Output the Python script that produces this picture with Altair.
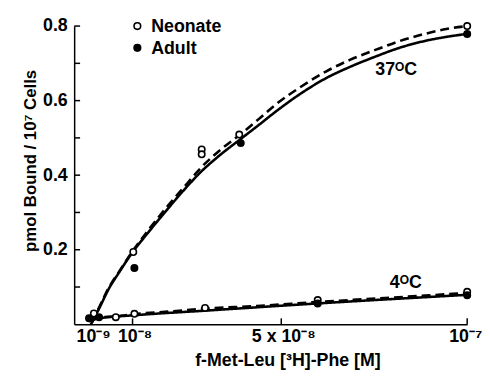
import altair as alt
import pandas as pd

# concentration in units of 1e-8 M
adult37_x = [-0.12, 0.10, 0.36, 0.63, 1.02, 1.42, 1.95, 2.48, 2.83, 3.28, 3.92, 4.40, 4.87, 5.54, 6.20, 6.86, 7.53, 8.19, 8.86, 9.44, 10.0]
adult37_y = [0.000, 0.042, 0.095, 0.138, 0.196, 0.246, 0.310, 0.371, 0.408, 0.448, 0.498, 0.535, 0.572, 0.620, 0.660, 0.691, 0.718, 0.742, 0.760, 0.771, 0.779]
neo37_x = [-0.09, 0.10, 0.36, 0.63, 1.02, 1.42, 1.95, 2.48, 2.83, 3.28, 3.92, 4.40, 4.87, 5.54, 6.20, 6.86, 7.53, 8.19, 8.86, 9.44, 10.0]
neo37_y = [0.005, 0.045, 0.098, 0.140, 0.199, 0.252, 0.318, 0.379, 0.419, 0.461, 0.511, 0.551, 0.591, 0.638, 0.678, 0.710, 0.736, 0.760, 0.779, 0.792, 0.800]
adult4_x = [-0.17, 0.10, 1.02, 3.02, 5.99, 10.0]
adult4_y = [0.008, 0.016, 0.024, 0.037, 0.056, 0.079]
neo4_x = [-0.12, 0.10, 0.55, 1.02, 1.95, 2.96, 4.34, 5.99, 7.53, 8.86, 10.0]
neo4_y = [0.012, 0.018, 0.021, 0.027, 0.034, 0.042, 0.049, 0.060, 0.069, 0.077, 0.084]

neo_pts_x = [-0.04, 1.02, 2.86, 2.86, 3.87, 10.0, 0.55, 1.05, 2.95, 5.98, 10.0]
neo_pts_y = [0.029, 0.194, 0.469, 0.456, 0.509, 0.800, 0.019, 0.028, 0.044, 0.065, 0.087]
adult_pts_x = [-0.17, 0.10, 1.05, 3.91, 10.0, 5.98, 10.0]
adult_pts_y = [0.016, 0.019, 0.151, 0.486, 0.779, 0.056, 0.078]

groups = ["Neonate", "Adult"]
x_tick_vals = [0.1, 1, 5, 10]
x_tick_labels = ["10⁻⁹", "10⁻⁸", "5 x 10⁻⁸", "10⁻⁷"]
x_minor_ticks = [1, 5, 10]
y_label_vals = [0.2, 0.4, 0.6, 0.8]
y_tick_vals = [0.1, 0.2, 0.3, 0.4, 0.5, 0.6, 0.7, 0.8]
ann_x = [8.09, 8.35]
ann_y = [0.681, 0.111]
ann_text = ["37ᴼC", "4ᴼC"]

FONT = "Liberation Sans"
W, H = 398, 302

rows = []
for xs, ys, g, t in [(adult37_x, adult37_y, "Adult", "37"), (neo37_x, neo37_y, "Neonate", "37"),
                     (adult4_x, adult4_y, "Adult", "4"), (neo4_x, neo4_y, "Neonate", "4")]:
    for a, b in zip(xs, ys):
        rows.append({"x": a, "y": b, "curve": g, "series": g + t})
lines_df = pd.DataFrame(rows)

pts = [{"x": a, "y": b, "kind": "Neonate"} for a, b in zip(neo_pts_x, neo_pts_y)] + \
      [{"x": a, "y": b, "kind": "Adult"} for a, b in zip(adult_pts_x, adult_pts_y)]
pts_df = pd.DataFrame(pts)

label_expr = " : ".join(
    [f"datum.value == {v} ? '{l}'" for v, l in zip(x_tick_vals[:-1], x_tick_labels[:-1])]
) + f" : '{x_tick_labels[-1]}'"

xscale = alt.Scale(domain=[-0.57, 10], nice=False, zero=False)
yscale = alt.Scale(domain=[0, 0.8], nice=False)
fill_scale = alt.Scale(domain=groups, range=["white", "black"])

xaxis = alt.Axis(values=x_tick_vals, labelExpr=label_expr, ticks=False, grid=False,
                 labelFlush=False, labelPadding=3, labelFontSize=18, labelFont=FONT,
                 labelFontWeight="bold", labelColor="black",
                 labelOffset={"condition": [{"test": "datum.value < 0.5", "value": -6},
                                            {"test": "datum.value > 9", "value": -2}],
                              "value": 2},
                 domainColor="black", domainWidth=1.5,
                 title="f-Met-Leu [³H]-Phe [M]", titleFont=FONT, titleFontSize=18,
                 titleFontWeight="bold", titleColor="black", titleX=216, titlePadding=7)
yaxis = alt.Axis(values=y_label_vals, format=".1f", ticks=False, grid=False,
                 labelPadding=7, labelFontSize=18, labelFont=FONT, labelFontWeight="bold",
                 labelColor="black", domainColor="black", domainWidth=1.5,
                 title="pmol Bound / 10⁷ Cells", titleFont=FONT, titleFontSize=17,
                 titleFontWeight="bold", titleColor="black", titlePadding=3, titleY=136)

lines = alt.Chart(lines_df).mark_line(interpolate="monotone", color="black", strokeWidth=2.6).encode(
    x=alt.X("x:Q", scale=xscale, axis=xaxis),
    y=alt.Y("y:Q", scale=yscale, axis=yaxis),
    detail="series:N",
    strokeDash=alt.StrokeDash("curve:N", scale=alt.Scale(domain=groups, range=[[9, 5], [1, 0]]), legend=None),
)

points = alt.Chart(pts_df).mark_point(shape="circle", filled=True, stroke="black",
                                      strokeWidth=1.6, size=42, opacity=1).encode(
    x="x:Q", y="y:Q",
    fill=alt.Fill("kind:N", scale=fill_scale, legend=None),
)

xt = alt.Chart(pd.DataFrame({"x": x_minor_ticks})).mark_rule(color="black", strokeWidth=1.5).encode(
    x="x:Q", y=alt.value(H), y2=alt.value(H - 6))
yt = alt.Chart(pd.DataFrame({"y": y_tick_vals})).mark_rule(color="black", strokeWidth=1.5).encode(
    y="y:Q", x=alt.value(0), x2=alt.value(6))

ann = alt.Chart(pd.DataFrame({"x": ann_x, "y": ann_y, "t": ann_text})).mark_text(
    font=FONT, fontSize=18, fontWeight="bold", color="black").encode(x="x:Q", y="y:Q", text="t:N")

# legend drawn as marks (symbol + label per group)
legend_layers = []
for i, g in enumerate(groups):
    ldf = pd.DataFrame({"kind": [g]})
    legend_layers.append(
        alt.Chart(ldf).mark_point(shape="circle", filled=True, stroke="black", strokeWidth=1.6,
                                  size=45, opacity=1).encode(
            x=alt.value(64), y=alt.value(i * 22), fill=alt.Fill("kind:N", scale=fill_scale, legend=None)))
    legend_layers.append(
        alt.Chart(ldf).mark_text(font=FONT, fontSize=18, fontWeight="bold", color="black",
                                 align="left", baseline="middle").encode(
            x=alt.value(78), y=alt.value(i * 22 + 1), text="kind:N"))

chart = alt.layer(xt, yt, lines, points, ann, *legend_layers).properties(
    width=W, height=H,
    autosize=alt.AutoSizeParams(type="none"),
    padding={"left": 67, "top": 16, "right": 15, "bottom": 44},
    background="white",
).configure_view(stroke=None)

chart.save("out.html", embed_options={"renderer": "svg", "actions": False})
